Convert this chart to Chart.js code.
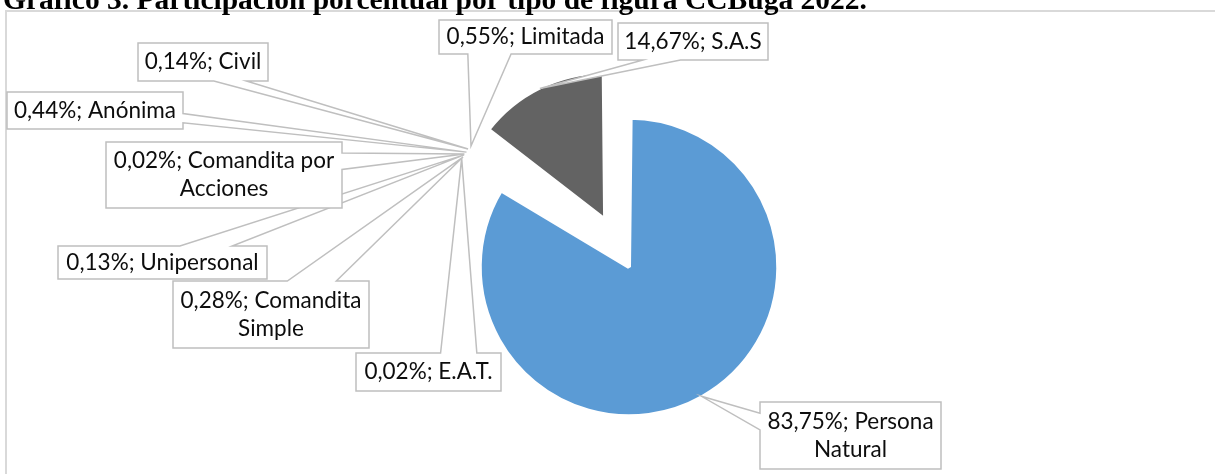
<!DOCTYPE html>
<html>
<head>
<meta charset="utf-8">
<script src="https://cdn.jsdelivr.net/npm/chart.js@4.4.0/dist/chart.umd.min.js"></script>
<style>
  body { margin: 0; background: #fff; }
  #wrap { position: absolute; left: 0; top: 0; width: 1215px; height: 474px; }
</style>
</head>
<body>
<div id="wrap"><canvas id="myChart"></canvas></div>
<script>
const titleText = "Gráfico 3. Participación porcentual por tipo de figura CCBuga 2022.";

const labels = ["Persona Natural", "E.A.T.", "Comandita Simple", "Unipersonal",
  "Comandita por Acciones", "Anónima", "Civil", "Limitada", "S.A.S"];
const values = [83.75, 0.02, 0.28, 0.13, 0.02, 0.44, 0.14, 0.55, 14.67];
const colors = ["#5B9BD5", "#ED7D31", "#A5A5A5", "#FFC000", "#4472C4",
  "#70AD47", "#255E91", "#9E480E", "#636363"];
// explosion of each slice (chart.js offset units)
const explode = [41, 105, 105, 105, 105, 105, 105, 105, 170];
// white outline of each slice
const outline = [4, 4, 4, 4, 4, 4, 4, 3, 4];
// tiny slices drawn with straight ends
const round = [true, false, false, false, false, false, false, false, true];

// callout boxes, same order as labels: [x, y, w, h]
const boxes = [
  [760, 402, 181, 67],
  [356, 353, 145, 38],
  [173, 281, 196, 67],
  [58, 246, 209, 33],
  [106, 142, 236, 66],
  [7, 92, 176, 37],
  [138, 43, 130, 38],
  [439, 20, 173, 34],
  [618, 23, 150, 37]
];

function fmt(v) {
  return v.toFixed(2).replace(".", ",") + "%";
}

function wrap(ctx, text, maxW) {
  let words = text.split(" ");
  let lines = [];
  let cur = "";
  for (let i = 0; i < words.length; i++) {
    let test = cur ? cur + " " + words[i] : words[i];
    if (cur && ctx.measureText(test).width > maxW) {
      lines.push(cur);
      cur = words[i];
    } else {
      cur = test;
    }
  }
  lines.push(cur);
  return lines;
}

// point on the outer edge of an exploded arc
function tipOf(arc) {
  const mid = (arc.startAngle + arc.endAngle) / 2;
  const off = (arc.options.offset || 0) / 4;
  const circ = arc.endAngle - arc.startAngle;
  const fix = 1 - Math.sin(Math.min(Math.PI, circ));
  const r = arc.outerRadius + off * fix + off - 1;
  return { x: arc.x + Math.cos(mid) * r, y: arc.y + Math.sin(mid) * r };
}

// rectangle with a wedge pointing at the tip (like excel data callouts)
function drawCallout(ctx, b, tip) {
  const [x, y, w, h] = b;
  const dxPos = tip.x - (x + w / 2);
  const dyPos = tip.y - (y + h / 2);
  const x1 = x + w * (dxPos > 0 ? 7 : 2) / 12;
  const x2 = x + w * (dxPos > 0 ? 10 : 5) / 12;
  const y1 = y + h * (dyPos > 0 ? 7 : 2) / 12;
  const y2 = y + h * (dyPos > 0 ? 10 : 5) / 12;
  const vertical = Math.abs(dyPos * w) > Math.abs(dxPos * h);

  ctx.beginPath();
  ctx.moveTo(x, y);
  if (vertical && dyPos < 0) { ctx.lineTo(x1, y); ctx.lineTo(tip.x, tip.y); ctx.lineTo(x2, y); }
  ctx.lineTo(x + w, y);
  if (!vertical && dxPos > 0) { ctx.lineTo(x + w, y1); ctx.lineTo(tip.x, tip.y); ctx.lineTo(x + w, y2); }
  ctx.lineTo(x + w, y + h);
  if (vertical && dyPos > 0) { ctx.lineTo(x2, y + h); ctx.lineTo(tip.x, tip.y); ctx.lineTo(x1, y + h); }
  ctx.lineTo(x, y + h);
  if (!vertical && dxPos < 0) { ctx.lineTo(x, y2); ctx.lineTo(tip.x, tip.y); ctx.lineTo(x, y1); }
  ctx.closePath();
  ctx.fill();
  ctx.stroke();
}

const callouts = {
  id: "callouts",
  beforeDraw(chart) {
    const ctx = chart.ctx;
    ctx.save();
    ctx.strokeStyle = "#d9d9d9";
    ctx.lineWidth = 2;
    ctx.strokeRect(6, 11, 1400, 600);
    ctx.restore();
  },
  afterDatasetsDraw(chart) {
    const ctx = chart.ctx;
    const arcs = chart.getDatasetMeta(0).data;
    ctx.save();
    ctx.font = "22.5px Lato";
    ctx.lineJoin = "miter";
    arcs.forEach((arc, i) => {
      const b = boxes[i];
      ctx.fillStyle = "#fff";
      ctx.strokeStyle = "#bfbfbf";
      ctx.lineWidth = 1.5;
      drawCallout(ctx, b, tipOf(arc));

      const lines = wrap(ctx, fmt(values[i]) + "; " + labels[i], b[2] - 8);
      ctx.fillStyle = "#0d0d0d";
      ctx.textAlign = "center";
      ctx.textBaseline = "middle";
      const cy = b[1] + b[3] / 2 - (lines.length - 1) * 14;
      lines.forEach((ln, k) => ctx.fillText(ln, b[0] + b[2] / 2, cy + k * 28));
    });

    ctx.fillStyle = "#000";
    ctx.textAlign = "left";
    ctx.textBaseline = "alphabetic";
    ctx.font = "bold 29.5px 'Liberation Serif'";
    ctx.fillText(titleText, 3, 9);
    ctx.restore();
  }
};

new Chart("myChart", {
  type: "pie",
  data: {
    labels: labels,
    datasets: [{
      data: values,
      backgroundColor: colors,
      borderColor: "#fff",
      borderWidth: outline,
      offset: explode,
      circular: round,
      hoverOffset: 0,
      radius: 139
    }]
  },
  options: {
    responsive: true,
    maintainAspectRatio: false,
    animation: false,
    events: [],
    layout: { padding: { left: 33, right: 0, top: 42, bottom: 0 } },
    plugins: {
      legend: { display: false },
      tooltip: { enabled: false }
    }
  },
  plugins: [callouts]
});
</script>
</body>
</html>
